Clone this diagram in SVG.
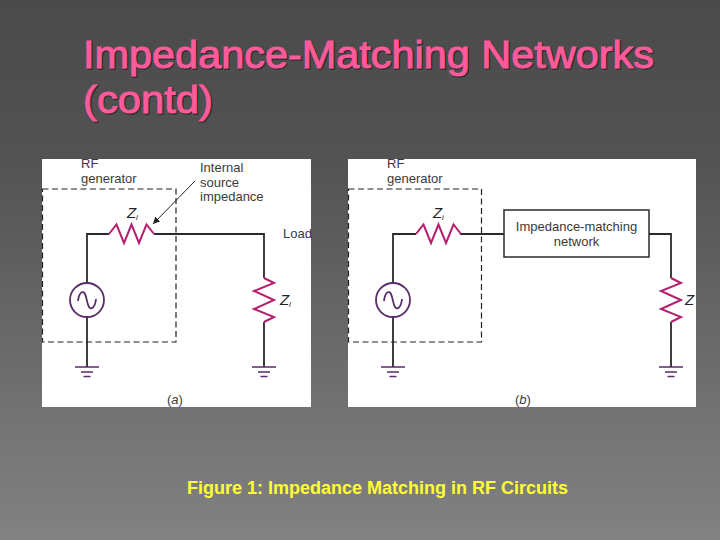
<svg xmlns="http://www.w3.org/2000/svg" width="720" height="540" viewBox="0 0 720 540">
<style>
text{font-family:"Liberation Sans",Arial,sans-serif}
.title{font-size:39px;fill:#ff5a9a;stroke:#ff5a9a;stroke-width:1px}
.shadow{font-size:39px;fill:#2e2e2e;stroke:#2e2e2e;stroke-width:1.400px}
.lbl{font-size:13px;fill:#3a3a3a}
.it{font-size:15px;fill:#222;font-style:italic}
.sub{font-size:8px;fill:#222;font-style:italic}
.w{fill:none;stroke:#2b2b2b;stroke-width:1.8}
.d{fill:none;stroke:#222;stroke-width:1.200;stroke-dasharray:6 3.500}
.r{fill:none;stroke:#b3206f;stroke-width:2;stroke-linejoin:miter}
.s{fill:none;stroke:#5a2d68;stroke-width:1.800}
.g1{stroke:#5a2d68;stroke-width:1.700}
</style>
<defs>
<linearGradient id="bg" x1="0" y1="0" x2="0" y2="1"><stop offset="0" stop-color="#4a4a4a"/><stop offset="0.3" stop-color="#535353"/><stop offset="1" stop-color="#828282"/></linearGradient>
<g id="gnd"><path class="g1" d="M-12 0H12M-6 5H6M-3.500 9.500H3.500"/></g>
<g id="src"><circle class="s" r="17"/><path class="s" d="M-9 1C-8-8-4-10-2-6C0-2 0 4 2 7C4 10 8 8 9-1"/></g>
<path id="hres" class="r" d="M0 0L7.500-9.500L15 9L22.500-9.500L30 9L37.500-9.500L45 0"/>
<path id="vres" class="r" d="M0 0L10 5L-10 13L10 22L-10 31L10 39L0 44"/>
<marker id="ah" markerWidth="8" markerHeight="8" refX="7" refY="3.500" orient="auto" markerUnits="userSpaceOnUse"><path d="M0 0L7 3.500L0 7Z" fill="#222"/></marker>
</defs>
<rect width="720" height="540" fill="url(#bg)"/>
<g id="title">
<text class="shadow" x="84.200" y="69.200" textLength="571" lengthAdjust="spacingAndGlyphs">Impedance-Matching Networks</text>
<text class="shadow" x="84.200" y="114.200" textLength="130" lengthAdjust="spacingAndGlyphs">(contd)</text>
<text class="title" x="83" y="68" textLength="571" lengthAdjust="spacingAndGlyphs">Impedance-Matching Networks</text>
<text class="title" x="83" y="113" textLength="130" lengthAdjust="spacingAndGlyphs">(contd)</text>
</g>
<g id="panel-a">
<rect x="42" y="159" width="269" height="248" fill="#fff"/>
<g id="connectors-a">
<path class="w" d="M87 283V234H109M154 234H264V278M264 322V367M87 317V367"/>
<path d="M195 181L153 224" fill="none" stroke="#222" stroke-width="1" marker-end="url(#ah)"/>
</g>
<rect class="d" x="42.500" y="189" width="133.500" height="153"/>
<use href="#hres" x="109" y="234"/>
<use href="#vres" x="264" y="278"/>
<use href="#src" x="87" y="300"/>
<use href="#gnd" x="87" y="367"/>
<use href="#gnd" x="264" y="367"/>
<text class="lbl" x="81" y="168">RF</text>
<text class="lbl" x="81" y="183">generator</text>
<text class="lbl" x="200" y="172">Internal</text>
<text class="lbl" x="200" y="187">source</text>
<text class="lbl" x="200" y="201">impedance</text>
<text class="lbl" x="283" y="238">Load</text>
<text class="it" x="127" y="218">Z</text><text class="sub" x="136" y="220">i</text>
<text class="it" x="280" y="305">Z</text><text class="sub" x="289" y="307">l</text>
<text class="lbl" x="167" y="404">(<tspan font-style="italic">a</tspan>)</text>
</g>
<g id="panel-b">
<rect x="348" y="159" width="348" height="248" fill="#fff"/>
<g id="connectors-b">
<path class="w" d="M393 283V234H416M460 234H504M649 234H671V278M671 322V367M393 317V367"/>
</g>
<rect class="d" x="348.500" y="189" width="133" height="153"/>
<use href="#hres" x="416" y="234"/>
<use href="#vres" x="671" y="278"/>
<use href="#src" x="393" y="300"/>
<use href="#gnd" x="393" y="367"/>
<use href="#gnd" x="671" y="367"/>
<g id="matching-network">
<rect x="504" y="210" width="145" height="47" fill="#fff" stroke="#2b2b2b" stroke-width="1.500"/>
<text class="lbl" x="576.500" y="231" text-anchor="middle">Impedance-matching</text>
<text class="lbl" x="576.500" y="246" text-anchor="middle">network</text>
</g>
<text class="lbl" x="387" y="168">RF</text>
<text class="lbl" x="387" y="183">generator</text>
<text class="it" x="433" y="218">Z</text><text class="sub" x="442" y="220">i</text>
<text class="it" x="685" y="305">Z</text>
<text class="lbl" x="515" y="404">(<tspan font-style="italic">b</tspan>)</text>
</g>
<text id="caption" x="187" y="494" font-size="18" font-weight="700" fill="#ffff33" textLength="381" lengthAdjust="spacingAndGlyphs">Figure 1: Impedance Matching in RF Circuits</text>
</svg>
